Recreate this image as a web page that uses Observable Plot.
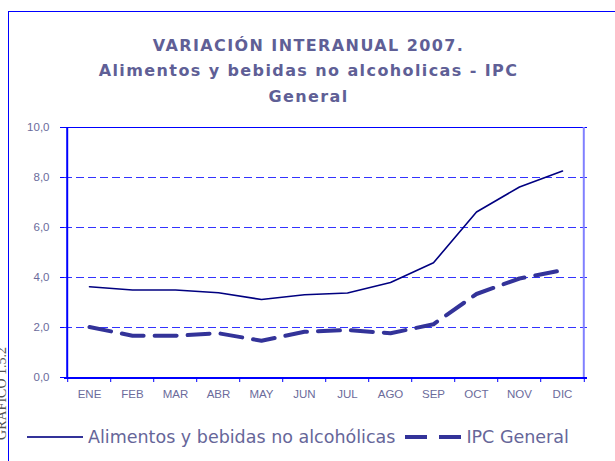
<!DOCTYPE html>
<html>
<head>
<meta charset="utf-8">
<script src="https://cdn.jsdelivr.net/npm/d3@7"></script>
<script src="https://cdn.jsdelivr.net/npm/@observablehq/plot@0.6"></script>
<style>
  body { margin: 0; background: #fff; }
  #root { position: relative; width: 615px; height: 461px; overflow: hidden; background: #fff; }
  #frame { position: absolute; left: 8px; top: 11px; width: 700px; height: 500px;
           border-left: 1.5px solid #0000ff; border-top: 1.5px solid #0000ff; }
  #title { position: absolute; left: 0; top: 32.7px; width: 617px; text-align: center;
           font-family: "DejaVu Sans", Verdana, sans-serif; font-weight: bold; font-size: 16px;
           line-height: 25.5px; letter-spacing: 1.4px; color: #5f5f96; }
  #chart { position: absolute; left: 0; top: 110px; }
  #legend { position: absolute; left: 27px; top: 427px; display: flex; align-items: center;
            font-family: "DejaVu Sans", Verdana, sans-serif; font-size: 17.5px; line-height: 20px; color: #666699; white-space: nowrap; }
  #legend svg { display: block; }
  #side { position: absolute; left: 0; top: 0; }
</style>
</head>
<body>
<div id="root">
  <div id="frame"></div>
  <div id="title">VARIACIÓN INTERANUAL 2007.<br>Alimentos y bebidas no alcoholicas - IPC<br>General</div>
  <div id="chart"></div>
  <div id="legend"></div>
  <svg id="side" width="20" height="461"><text transform="translate(6,347) rotate(-90)" text-anchor="end" font-family="Liberation Serif, Times New Roman, serif" font-size="14" fill="#555">GRÁFICO 1.5.2</text></svg>
</div>
<script>
const months = ["ENE","FEB","MAR","ABR","MAY","JUN","JUL","AGO","SEP","OCT","NOV","DIC"];
const alimentos = [3.63, 3.50, 3.50, 3.39, 3.12, 3.31, 3.38, 3.80, 4.59, 6.62, 7.62, 8.26];
const ipc = [2.02, 1.67, 1.67, 1.77, 1.47, 1.83, 1.90, 1.77, 2.13, 3.34, 3.96, 4.29];
const yTicks = [0, 2, 4, 6, 8, 10];
const gridTicks = [2, 4, 6, 8];
const seriesNames = ["Alimentos y bebidas no alcohólicas", "IPC General"];

const W = 615, mL = 64, mR = 28;
const step = (W - mL - mR) / months.length;
const labelColor = "#6b6b9b";
const fmt = d => d.toFixed(1).replace(".", ",");

const chart = Plot.plot({
  width: W,
  height: 296,
  marginLeft: mL,
  marginRight: mR,
  marginTop: 17,
  marginBottom: 29,
  style: { fontFamily: "Liberation Sans, Arial, sans-serif", background: "transparent", overflow: "visible" },
  x: { type: "point", domain: months, padding: 0.5 },
  y: { domain: [0, 10] },
  marks: [
    Plot.ruleY(gridTicks, { stroke: "#3333ff", strokeWidth: 1, strokeDasharray: "8,4" }),
    Plot.ruleY([10], { stroke: "#0000ff", strokeWidth: 1 }),
    Plot.ruleX([months[months.length - 1]], { dx: step / 2 - 0.5, stroke: "#8080ff", strokeWidth: 2 }),
    Plot.ruleX([months[0]], { dx: -step / 2 - 0.5, stroke: "#0000ff", strokeWidth: 2 }),
    Plot.ruleY([0], { stroke: "#0000ff", strokeWidth: 2, dy: 0.5 }),
    Plot.axisY({ ticks: yTicks, tickFormat: fmt, tickSize: 4, tickPadding: 11, stroke: "#0000ff",
                 fill: labelColor, fontSize: 11.5, label: null }),
    Plot.axisX({ ticks: months, tickSize: 0, tickPadding: 12, fill: labelColor, fontSize: 11.5, label: null,
                 style: { letterSpacing: "0.3px" } }),
    Plot.axisX({ ticks: months, tickSize: 5, tickFormat: () => "", stroke: "#0000ff", dx: -step / 2, label: null }),
    Plot.axisX({ ticks: [months[months.length - 1]], tickSize: 5, tickFormat: () => "", stroke: "#0000ff", dx: step / 2, label: null }),
    Plot.lineY(alimentos, { x: months, y: d => d, stroke: "#000080", strokeWidth: 1.6 }),
    Plot.lineY(ipc, { x: months, y: d => d, stroke: "#333399", strokeWidth: 4, strokeDasharray: "22,11" })
  ]
});
document.getElementById("chart").appendChild(chart);

// Legend
const legend = document.getElementById("legend");
function swatch(dash, width) {
  const s = d3.create("svg").attr("width", 56).attr("height", 20);
  s.append("line").attr("x1", 0).attr("x2", 56).attr("y1", 10).attr("y2", 10)
    .attr("stroke", "#333399").attr("stroke-width", width).attr("stroke-dasharray", dash);
  return s.node();
}
function item(sw, text, gapAfter) {
  const span = document.createElement("span");
  span.textContent = text;
  span.style.marginLeft = "5px";
  if (gapAfter) span.style.marginRight = gapAfter + "px";
  legend.appendChild(sw);
  legend.appendChild(span);
}
item(swatch(null, 2), seriesNames[0], 10);
item(swatch("22,12", 4), seriesNames[1], 0);
</script>
</body>
</html>
